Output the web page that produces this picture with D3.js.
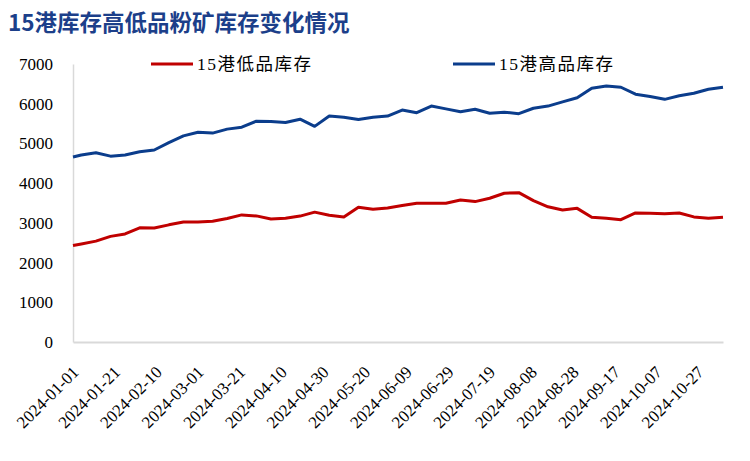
<!DOCTYPE html>
<html>
<head>
<meta charset="utf-8">
<script src="https://cdn.jsdelivr.net/npm/d3@7"></script>
<style>
  body { margin: 0; background: #fff; }
  svg { display: block; }
</style>
</head>
<body>
<svg id="chart" width="750" height="461"></svg>
<script>
// weekly dates (first point is 1 Jan, then Fridays)
const dates = [
  "2024-01-01", "2024-01-05", "2024-01-12", "2024-01-19", "2024-01-26",
  "2024-02-02", "2024-02-09", "2024-02-16", "2024-02-23", "2024-03-01",
  "2024-03-08", "2024-03-15", "2024-03-22", "2024-03-29", "2024-04-05",
  "2024-04-12", "2024-04-19", "2024-04-26", "2024-05-03", "2024-05-10",
  "2024-05-17", "2024-05-24", "2024-05-31", "2024-06-07", "2024-06-14",
  "2024-06-21", "2024-06-28", "2024-07-05", "2024-07-12", "2024-07-19",
  "2024-07-26", "2024-08-02", "2024-08-09", "2024-08-16", "2024-08-23",
  "2024-08-30", "2024-09-06", "2024-09-13", "2024-09-20", "2024-09-27",
  "2024-10-04", "2024-10-11", "2024-10-18", "2024-10-25", "2024-11-01",
  "2024-11-08"
];

const lowGrade = [
  2430, 2470, 2540, 2660, 2720, 2875, 2870, 2950, 3020, 3020,
  3040, 3110, 3200, 3175, 3095, 3115, 3170, 3270, 3190, 3145,
  3395, 3340, 3375, 3435, 3495, 3495, 3495, 3575, 3535, 3620,
  3745, 3760, 3560, 3405, 3325, 3365, 3140, 3115, 3080, 3250,
  3240, 3230, 3250, 3150, 3115, 3140
];

const highGrade = [
  4660, 4710, 4765, 4680, 4710, 4790, 4835, 5020, 5190, 5280,
  5260, 5360, 5410, 5560, 5550, 5525, 5610, 5430, 5690, 5660,
  5600, 5660, 5690, 5840, 5775, 5940, 5870, 5800, 5860, 5760,
  5785, 5750, 5885, 5940, 6045, 6150, 6390, 6445, 6415, 6240,
  6180, 6110, 6200, 6265, 6365, 6415
];

const xTickLabels = [
  "2024-01-01", "2024-01-21", "2024-02-10", "2024-03-01", "2024-03-21",
  "2024-04-10", "2024-04-30", "2024-05-20", "2024-06-09", "2024-06-29",
  "2024-07-19", "2024-08-08", "2024-08-28", "2024-09-17", "2024-10-07",
  "2024-10-27"
];

const yTicks = [0, 1000, 2000, 3000, 4000, 5000, 6000, 7000];

const seriesNames = ["15港低品库存", "15港高品库存"];
const seriesColors = ["#c00000", "#0b3d8c"];

const parse = d3.utcParse("%Y-%m-%d");
const fmt = d3.utcFormat("%Y-%m-%d");

const SERIF = "Liberation Serif, Noto Sans CJK SC";

const svg = d3.select("#chart");
const margin = { left: 73, right: 27, top: 64, bottom: 119 };
const W = 750, H = 461;

const x = d3.scaleUtc()
  .domain([parse(dates[0]), parse(dates[dates.length - 1])])
  .range([margin.left, W - margin.right]);

const y = d3.scaleLinear()
  .domain([0, 7000])
  .range([H - margin.bottom, margin.top]);

// title
svg.append("text")
  .attr("x", 8)
  .attr("y", 31)
  .style("font-family", "Noto Sans CJK SC")
  .attr("font-weight", 700)
  .attr("font-size", 22.5)
  .attr("fill", "#1c3f8a")
  .text("15港库存高低品粉矿库存变化情况");

// y axis
const yAxis = svg.append("g")
  .attr("transform", `translate(${margin.left},0)`)
  .call(d3.axisLeft(y).tickValues(yTicks).tickSize(0).tickPadding(20).tickFormat(d3.format("d")));
yAxis.attr("font-family", SERIF);
yAxis.select(".domain").attr("stroke", "#d9d9d9").attr("stroke-width", 1.5);
yAxis.selectAll("text")
  .style("font-family", SERIF)
  .attr("font-size", 17)
  .attr("fill", "#000");

// x axis
const xAxis = svg.append("g")
  .attr("transform", `translate(0,${y(0)})`)
  .call(d3.axisBottom(x).tickValues(xTickLabels.map(parse)).tickSize(0).tickFormat(fmt));
xAxis.attr("font-family", SERIF);
xAxis.select(".domain").attr("stroke", "#d9d9d9").attr("stroke-width", 2);
xAxis.selectAll("text")
  .style("font-family", SERIF)
  .attr("font-size", 17)
  .attr("fill", "#000")
  .attr("text-anchor", "end")
  .attr("y", 0)
  .attr("dy", "0.35em")
  .attr("transform", "translate(2,27) rotate(-45)");

// lines
const rows = dates.map((d, i) => ({ date: parse(d), low: lowGrade[i], high: highGrade[i] }));
const keys = ["low", "high"];

keys.forEach((k, i) => {
  const line = d3.line()
    .x(d => x(d.date))
    .y(d => y(d[k]));
  svg.append("path")
    .datum(rows)
    .attr("fill", "none")
    .attr("stroke", seriesColors[i])
    .attr("stroke-width", 3)
    .attr("stroke-linejoin", "round")
    .attr("d", line);
});

// legend
const legendX = [151, 453];
seriesNames.forEach((name, i) => {
  const g = svg.append("g").attr("transform", `translate(${legendX[i]},64)`);
  g.append("line")
    .attr("x1", 0).attr("x2", 42)
    .attr("stroke", seriesColors[i])
    .attr("stroke-width", 3);
  g.append("text")
    .style("font-family", SERIF)
    .attr("x", 46)
    .attr("dy", "0.35em")
    .attr("font-size", 17.5)
    .attr("letter-spacing", 1.5)
    .attr("fill", "#000")
    .text(name);
});
</script>
</body>
</html>
